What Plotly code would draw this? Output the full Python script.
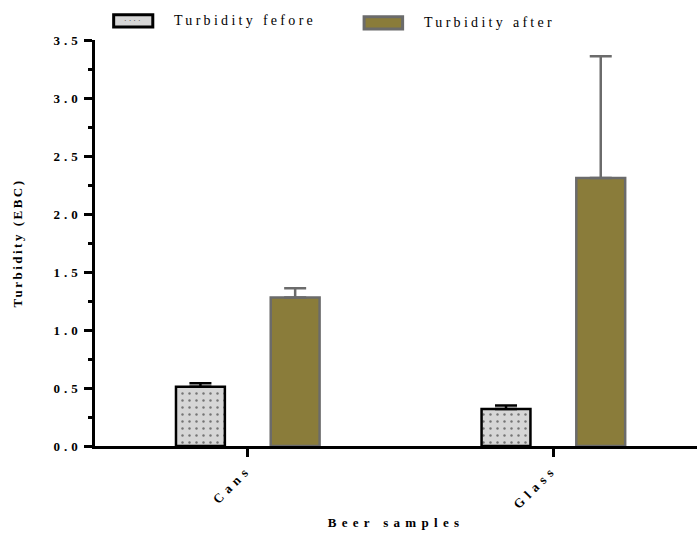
import plotly.graph_objects as go

# Beer turbidity measurements (EBC), mean with upper SD
categories = ["Cans", "Glass"]
turbidity_before = [0.51, 0.32]
turbidity_before_err = [0.03, 0.03]
turbidity_after = [1.28, 2.31]
turbidity_after_err = [0.08, 1.05]
y_ticks = [0.0, 0.5, 1.0, 1.5, 2.0, 2.5, 3.0, 3.5]

FONT = "Liberation Serif"
OLIVE = "#8a7c3a"
GREY_EDGE = "#6b6b6b"
LIGHT = "#d6d6d6"

x_pos = list(range(len(categories)))

fig = go.Figure()
fig.add_trace(go.Bar(
    x=x_pos, y=turbidity_before, name="Turbidity fefore",
    error_y=dict(type="data", symmetric=False, array=turbidity_before_err,
                 arrayminus=[0] * len(categories), color="black",
                 thickness=2.5, width=11),
    marker=dict(color=LIGHT, line=dict(color="black", width=2.5),
                pattern=dict(shape=".", fgcolor="#111111", bgcolor=LIGHT,
                             size=7, solidity=0.1)),
    showlegend=False,
))
fig.add_trace(go.Bar(
    x=x_pos, y=turbidity_after, name="Turbidity after",
    error_y=dict(type="data", symmetric=False, array=turbidity_after_err,
                 arrayminus=[0] * len(categories), color=GREY_EDGE,
                 thickness=2.5, width=11),
    marker=dict(color=OLIVE, line=dict(color=GREY_EDGE, width=2.5)),
    showlegend=False,
))

# Legend drawn as swatches + labels across the top
legend_items = [
    (0.031, 0.096, 1.032, 1.062, LIGHT, "black", 0.128, "Turbidity fefore"),
    (0.447, 0.511, 1.027, 1.057, OLIVE, GREY_EDGE, 0.543, "Turbidity after"),
]
for x0, x1, y0, y1, fill, edge, tx, label in legend_items:
    fig.add_shape(type="rect", xref="paper", yref="paper", x0=x0, x1=x1,
                  y0=y0, y1=y1, fillcolor=fill, line=dict(color=edge, width=3))
    fig.add_annotation(xref="paper", yref="paper", x=tx, y=(y0 + y1) / 2,
                       text=label, showarrow=False, xanchor="left",
                       yanchor="middle",
                       font=dict(family=FONT, size=14, color="black",
                                 weight="normal"))
fig.add_annotation(xref="paper", yref="paper", x=0.063, y=1.047, text="· · · ·",
                   showarrow=False, xanchor="center", yanchor="middle",
                   font=dict(family=FONT, size=8, color="#333333",
                             weight="normal"))

fig.update_layout(
    width=697, height=534,
    margin=dict(l=95, r=0, t=40, b=88),
    paper_bgcolor="white", plot_bgcolor="white",
    barmode="group", bargap=0.38, bargroupgap=0.484,
    font=dict(family=FONT, size=12, color="black", weight="bold"),
    xaxis=dict(
        range=[-0.5, 1.47], tickvals=x_pos, ticktext=categories,
        tickangle=-45, showline=True, linecolor="black", linewidth=2.5,
        ticks="outside", ticklen=8, tickwidth=2.5, tickcolor="black",
        showgrid=False, zeroline=False,
        tickfont=dict(family=FONT, size=13, weight="bold"),
        title=dict(text="Beer samples", standoff=25,
                   font=dict(family=FONT, size=13, weight="bold")),
    ),
    yaxis=dict(
        range=[0, 3.5], tickvals=y_ticks,
        ticktext=[f"{v:.1f}" for v in y_ticks],
        showline=True, linecolor="black", linewidth=2.5,
        ticks="outside", ticklen=8, tickwidth=2.5, tickcolor="black",
        minor=dict(dtick=0.25, ticks="outside", ticklen=4, tickwidth=2.5,
                   tickcolor="black", showgrid=False),
        showgrid=False, zeroline=False,
        tickfont=dict(family=FONT, size=13, weight="bold"),
        title=dict(text="Turbidity (EBC)", standoff=40,
                   font=dict(family=FONT, size=13, weight="bold")),
    ),
)

# Wide letter spacing for the typeset look of the labels
spacing_js = """
var gd = document.getElementById('{plot_id}');
function spread(sel, px) {
  gd.querySelectorAll(sel).forEach(function (t) {
    t.style.letterSpacing = px + 'px';
  });
}
spread('g.ytick text', 4);
spread('g.xtick text', 5);
spread('.g-xtitle text', 5.3);
spread('.g-ytitle text', 2.5);
gd.querySelectorAll('.annotation-text').forEach(function (t) {
  if (t.textContent.indexOf('Turbidity') !== 0) return;
  var bb = t.getBBox();
  t.setAttribute('text-anchor', 'start');
  t.setAttribute('x', bb.x);
  t.style.letterSpacing = '3.3px';
});
"""

fig.write_html("out.html", post_script=spacing_js)
